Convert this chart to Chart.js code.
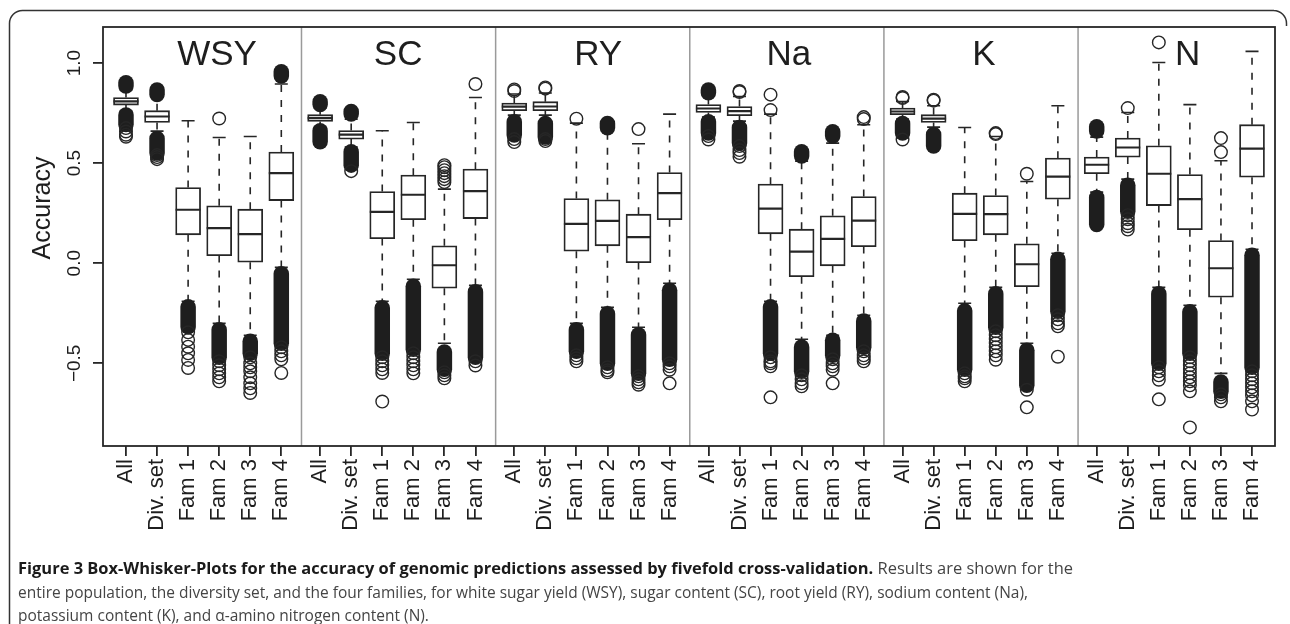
<!DOCTYPE html>
<html>
<head>
<meta charset="utf-8">
<script src="https://cdn.jsdelivr.net/npm/chart.js@4.4.1/dist/chart.umd.min.js"></script>
<style>
  html, body { margin: 0; padding: 0; background: #fff; }
  canvas { display: block; }
</style>
</head>
<body>
<canvas id="grafBox" width="1290" height="624"></canvas>
<script>
//-> DATA (order: trait, then group)
const traits = ['WSY', 'SC', 'RY', 'Na', 'K', 'N'];
const groups = ['All', 'Div. set', 'Fam 1', 'Fam 2', 'Fam 3', 'Fam 4'];
const yTicks = [-0.5, 0.0, 0.5, 1.0];

const q1 = [
  0.790, 0.703, 0.142, 0.038, 0.005, 0.313,   // WSY
  0.708, 0.620, 0.123, 0.217, -0.125, 0.223,  // SC
  0.762, 0.762, 0.060, 0.087, 0.003, 0.217,   // RY
  0.753, 0.737, 0.147, -0.067, -0.013, 0.083, // Na
  0.742, 0.703, 0.113, 0.142, -0.117, 0.320,  // K
  0.447, 0.530, 0.288, 0.167, -0.170, 0.430   // N
];
const medians = [
  0.808, 0.733, 0.267, 0.175, 0.145, 0.450,
  0.725, 0.642, 0.257, 0.342, -0.010, 0.360,
  0.782, 0.783, 0.197, 0.212, 0.130, 0.350,
  0.773, 0.760, 0.273, 0.058, 0.122, 0.213,
  0.758, 0.722, 0.247, 0.245, -0.005, 0.433,
  0.492, 0.578, 0.447, 0.320, -0.025, 0.572
];
const q3 = [
  0.828, 0.762, 0.378, 0.287, 0.270, 0.555,
  0.742, 0.663, 0.358, 0.440, 0.087, 0.470,
  0.800, 0.807, 0.323, 0.317, 0.245, 0.453,
  0.793, 0.783, 0.395, 0.170, 0.237, 0.333,
  0.775, 0.742, 0.350, 0.338, 0.097, 0.525,
  0.530, 0.625, 0.587, 0.443, 0.113, 0.692
];
const whiskerLow = [
  0.760, 0.660, -0.190, -0.300, -0.360, -0.020,
  0.680, 0.580, -0.190, -0.080, -0.400, -0.110,
  0.740, 0.740, -0.300, -0.220, -0.320, -0.100,
  0.730, 0.710, -0.190, -0.380, -0.360, -0.260,
  0.720, 0.680, -0.200, -0.120, -0.400, 0.050,
  0.355, 0.420, -0.120, -0.210, -0.550, 0.070
];
const whiskerHigh = [
  0.865, 0.830, 0.712, 0.628, 0.633, 0.895,
  0.775, 0.720, 0.662, 0.703, 0.370, 0.828,
  0.845, 0.850, 0.700, 0.660, 0.597, 0.745,
  0.842, 0.833, 0.745, 0.510, 0.600, 0.692,
  0.808, 0.787, 0.678, 0.633, 0.408, 0.787,
  0.630, 0.753, 1.003, 0.792, 0.512, 1.058
];
// dense runs of outliers (overlapping circles), [from, to]
const upperRuns = [
  [0.885, 0.902], [0.843, 0.865], null, null, null, [0.935, 0.957],
  [0.793, 0.807], [0.745, 0.758], null, null, null, null,
  null, null, null, [0.677, 0.698], null, null,
  [0.852, 0.865], null, null, [0.535, 0.557], [0.635, 0.657], null,
  null, null, null, null, null, null,
  [0.660, 0.682], null, null, null, null, null
];
const lowerRuns = [
  [0.693, 0.740], [0.550, 0.623], [-0.318, -0.218], [-0.470, -0.332], [-0.450, -0.390], [-0.400, -0.052],
  [0.607, 0.662], [0.490, 0.557], [-0.450, -0.223], [-0.430, -0.115], [-0.530, -0.443], [-0.470, -0.143],
  [0.640, 0.707], [0.630, 0.698], [-0.440, -0.332], [-0.500, -0.252], [-0.550, -0.357], [-0.480, -0.135],
  [0.650, 0.707], [0.600, 0.678], [-0.450, -0.218], [-0.540, -0.418], [-0.460, -0.385], [-0.420, -0.288],
  [0.650, 0.698], [0.585, 0.643], [-0.530, -0.238], [-0.320, -0.152], [-0.610, -0.435], [-0.240, 0.020],
  [0.193, 0.328], [0.260, 0.390], [-0.500, -0.152], [-0.450, -0.243], [-0.640, -0.593], [-0.520, 0.040]
];
// single outliers
const outliers = [
  [0.675, 0.658, 0.642, 0.632],
  [0.540, 0.530, 0.520],
  [-0.345, -0.383, -0.417, -0.450, -0.483, -0.523],
  [0.723, -0.490, -0.510, -0.530, -0.550, -0.570, -0.590],
  [-0.470, -0.500, -0.520, -0.540, -0.570, -0.600, -0.625, -0.648],
  [-0.420, -0.440, -0.460, -0.480, -0.548],
  [],
  [0.460],
  [-0.470, -0.490, -0.510, -0.530, -0.548, -0.691],
  [-0.450, -0.470, -0.490, -0.510, -0.530, -0.550],
  [0.405, 0.420, 0.435, 0.450, 0.465, 0.480, 0.490, -0.545, -0.560, -0.575],
  [0.895, -0.490, -0.511],
  [0.860, 0.868, 0.620, 0.605],
  [0.872, 0.878, 0.620, 0.610],
  [0.722, -0.460, -0.475, -0.490],
  [-0.520, -0.535, -0.545],
  [0.670, -0.565, -0.580, -0.595, -0.607],
  [-0.500, -0.515, -0.532, -0.600],
  [0.635, 0.618],
  [0.855, 0.860, 0.585, 0.565, 0.550, 0.532],
  [0.765, 0.842, -0.470, -0.490, -0.500, -0.515, -0.670],
  [-0.560, -0.580, -0.600, -0.615],
  [-0.480, -0.500, -0.515, -0.532, -0.600],
  [0.720, 0.730, -0.440, -0.460, -0.475, -0.490],
  [0.825, 0.830, 0.618],
  [0.812, 0.817],
  [-0.550, -0.565, -0.575, -0.590],
  [0.645, 0.650, -0.340, -0.360, -0.380, -0.400, -0.420, -0.440, -0.460, -0.482],
  [0.447, -0.632, -0.720],
  [-0.260, -0.280, -0.300, -0.315, -0.467],
  [],
  [0.775, 0.240, 0.220, 0.200, 0.185, 0.168],
  [1.103, -0.520, -0.540, -0.560, -0.582, -0.680],
  [-0.470, -0.490, -0.510, -0.530, -0.550, -0.570, -0.590, -0.610, -0.640, -0.820],
  [0.555, 0.625, -0.655, -0.670, -0.690],
  [-0.540, -0.560, -0.580, -0.600, -0.620, -0.640, -0.660, -0.690, -0.731]
];

//-> LAYOUT
const ink = '#262626';
const panelStep = 6.25;
const titleShift = [2.93, 2.51, 2.70, 2.59, 2.62, 2.93];
const ptR = 7;
function xPos(i) { return Math.floor(i / 6) * panelStep + (i % 6); }
const positions = q1.map((v, i) => xPos(i));

let boxData = [];
let pointData = [];
for (let i = 0; i < q1.length; i++) {
  boxData.push({ x: positions[i], y: [q1[i], q3[i]] });
  outliers[i].forEach(v => pointData.push({ x: positions[i], y: v }));
}

function fmtTick(v) {
  const s = Math.abs(v).toFixed(1);
  return v < 0 ? '\u2212' + s : s;
}

const boxExtras = {
  id: 'boxExtras',
  beforeDatasetsDraw(chart) {
    const ctx = chart.ctx, x = chart.scales.x, y = chart.scales.y;
    ctx.save();
    ctx.strokeStyle = ink;
    ctx.lineWidth = 1.6;
    for (let i = 0; i < q1.length; i++) {
      const px = x.getPixelForValue(positions[i]);
      // dashed whiskers
      ctx.setLineDash([7, 8]);
      ctx.beginPath();
      ctx.moveTo(px, y.getPixelForValue(q3[i]));
      ctx.lineTo(px, y.getPixelForValue(whiskerHigh[i]));
      ctx.moveTo(px, y.getPixelForValue(q1[i]));
      ctx.lineTo(px, y.getPixelForValue(whiskerLow[i]));
      ctx.stroke();
      // caps
      ctx.setLineDash([]);
      ctx.beginPath();
      [whiskerHigh[i], whiskerLow[i]].forEach(w => {
        const py = y.getPixelForValue(w);
        ctx.moveTo(px - 6.5, py);
        ctx.lineTo(px + 6.5, py);
      });
      ctx.stroke();
      // dense runs of outliers
      [upperRuns[i], lowerRuns[i]].forEach(run => {
        if (!run) return;
        const top = y.getPixelForValue(Math.max(run[0], run[1])) - ptR - 0.75;
        const bot = y.getPixelForValue(Math.min(run[0], run[1])) + ptR + 0.75;
        ctx.fillStyle = '#1e1e1e';
        ctx.beginPath();
        ctx.roundRect(px - ptR - 0.75, top, 2 * ptR + 1.5, bot - top, ptR + 0.75);
        ctx.fill();
      });
    }
    ctx.restore();
  },
  afterDatasetsDraw(chart) {
    const ctx = chart.ctx, x = chart.scales.x, y = chart.scales.y;
    const a = chart.chartArea;
    ctx.save();
    // medians
    ctx.strokeStyle = ink;
    ctx.lineWidth = 2.2;
    ctx.beginPath();
    for (let i = 0; i < medians.length; i++) {
      const px = x.getPixelForValue(positions[i]);
      const py = y.getPixelForValue(medians[i]);
      ctx.moveTo(px - 12.5, py);
      ctx.lineTo(px + 12.5, py);
    }
    ctx.stroke();
    // panel separators
    ctx.strokeStyle = '#9a9a9a';
    ctx.lineWidth = 1.5;
    ctx.beginPath();
    for (let t = 0; t < traits.length - 1; t++) {
      const sx = x.getPixelForValue(t * panelStep + 5.65);
      ctx.moveTo(sx, a.top);
      ctx.lineTo(sx, a.bottom);
    }
    ctx.stroke();
    // plot frame
    ctx.strokeStyle = ink;
    ctx.lineWidth = 1.8;
    ctx.strokeRect(a.left, a.top, a.right - a.left, a.bottom - a.top);
    // panel titles
    ctx.fillStyle = '#1e1e1e';
    ctx.font = '35px "Liberation Sans", Arial, sans-serif';
    ctx.textAlign = 'center';
    ctx.textBaseline = 'alphabetic';
    traits.forEach((t, k) => {
      ctx.fillText(t, x.getPixelForValue(k * panelStep + titleShift[k]), 65);
    });
    // y tick labels (parallel to axis)
    ctx.font = '19px "Liberation Sans", Arial, sans-serif';
    ctx.textBaseline = 'middle';
    yTicks.forEach(v => {
      ctx.save();
      ctx.translate(75, y.getPixelForValue(v));
      ctx.rotate(-Math.PI / 2);
      ctx.fillText(fmtTick(v), 0, 0);
      ctx.restore();
    });
    // axis title
    ctx.save();
    ctx.font = '25px "Liberation Sans", Arial, sans-serif';
    ctx.translate(43, 208);
    ctx.rotate(-Math.PI / 2);
    ctx.fillText('Accuracy', 0, 0);
    ctx.restore();
    ctx.restore();
  },
  afterDraw(chart) {
    const ctx = chart.ctx;
    ctx.save();
    // figure frame
    ctx.strokeStyle = '#333';
    ctx.lineWidth = 1.5;
    ctx.beginPath();
    ctx.moveTo(9.5, 624);
    ctx.lineTo(9.5, 23);
    ctx.arcTo(9.5, 10.5, 22, 10.5, 13);
    ctx.lineTo(1274, 10.5);
    ctx.arcTo(1286.5, 10.5, 1286.5, 23, 13);
    ctx.lineTo(1286.5, 26);
    ctx.stroke();
    // caption
    const bold = 'Figure 3 Box-Whisker-Plots for the accuracy of genomic predictions assessed by fivefold cross-validation.';
    const rest = ' Results are shown for the';
    const line2 = 'entire population, the diversity set, and the four families, for white sugar yield (WSY), sugar content (SC), root yield (RY), sodium content (Na),';
    const line3 = 'potassium content (K), and \u03b1-amino nitrogen content (N).';
    ctx.textBaseline = 'alphabetic';
    ctx.textAlign = 'left';
    ctx.font = '16.5px "Open Sans", sans-serif';
    const sx = 1010 / ctx.measureText(line2).width;
    ctx.font = 'bold 16.5px "Open Sans", sans-serif';
    const wb = ctx.measureText(bold).width;
    ctx.font = '16.5px "Open Sans", sans-serif';
    const wr = ctx.measureText(rest).width;
    const s1 = 1055 / (wb + wr);
    ctx.save();
    ctx.translate(18, 574);
    ctx.scale(s1, 1);
    ctx.fillStyle = '#1a1a1a';
    ctx.font = 'bold 16.5px "Open Sans", sans-serif';
    ctx.fillText(bold, 0, 0);
    ctx.fillStyle = '#444';
    ctx.font = '16.5px "Open Sans", sans-serif';
    ctx.fillText(rest, wb, 0);
    ctx.restore();
    ctx.fillStyle = '#444';
    [[line2, 598], [line3, 621]].forEach(l => {
      ctx.save();
      ctx.translate(18, l[1]);
      ctx.scale(sx, 1);
      ctx.fillText(l[0], 0, 0);
      ctx.restore();
    });
    ctx.restore();
  }
};

var grafBox = document.getElementById('grafBox').getContext('2d');
var chartjs = new Chart(grafBox, {
  type: 'bar',
  data: {
    datasets: [{
      type: 'bar',
      data: boxData,
      backgroundColor: '#ffffff',
      borderColor: ink,
      borderWidth: 1.8,
      borderSkipped: false,
      barThickness: 25,
      order: 2
    }, {
      type: 'scatter',
      data: pointData,
      pointStyle: 'circle',
      pointRadius: 6.3,
      pointBorderWidth: 1.4,
      pointBorderColor: ink,
      pointBackgroundColor: 'rgba(0,0,0,0)',
      order: 1
    }]
  },
  options: {
    responsive: false,
    devicePixelRatio: 1,
    animation: false,
    layout: { padding: { left: 0, top: 27, right: 15, bottom: 0 } },
    plugins: { legend: { display: false }, tooltip: { enabled: false } },
    scales: {
      x: {
        type: 'linear',
        min: -0.74,
        max: 36.99,
        offset: false,
        afterBuildTicks: s => { s.ticks = positions.map(v => ({ value: v })); },
        afterFit: s => { s.height = 178; s.paddingLeft = 0; s.paddingRight = 0; },
        ticks: {
          autoSkip: false,
          minRotation: 90,
          maxRotation: 90,
          padding: 3,
          color: '#1e1e1e',
          font: { family: '"Liberation Sans", Arial, sans-serif', size: 22 },
          callback: (v, i) => groups[i % groups.length]
        },
        grid: { offset: false, drawOnChartArea: false, drawTicks: true, tickLength: 10, color: ink, lineWidth: 1.8 },
        border: { display: false }
      },
      y: {
        min: -0.913,
        max: 1.18,
        afterBuildTicks: s => { s.ticks = yTicks.map(v => ({ value: v })); },
        afterFit: s => { s.width = 103; },
        ticks: { color: 'rgba(0,0,0,0)', font: { size: 19 } },
        grid: { offset: false, drawOnChartArea: false, drawTicks: true, tickLength: 10, color: ink, lineWidth: 1.8 },
        border: { display: false }
      }
    }
  },
  plugins: [boxExtras]
});
</script>
</body>
</html>
